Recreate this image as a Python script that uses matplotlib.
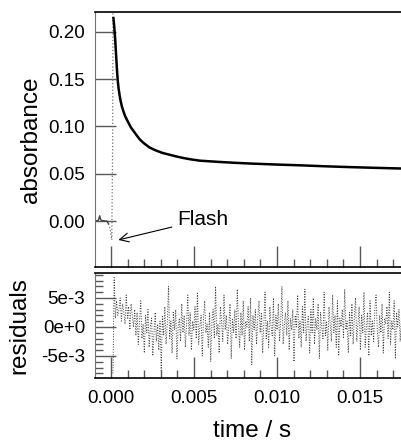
import numpy as np
import matplotlib.pyplot as plt
from matplotlib.ticker import MultipleLocator, FixedLocator, FixedFormatter

plt.rcParams['font.family'] = ['Liberation Sans', 'DejaVu Sans']

# fitted decay (time in s, absorbance)
fit_t = [0.00015, 0.00020, 0.00025, 0.00030, 0.00035, 0.00040, 0.00046, 0.00052,
         0.00058, 0.00066, 0.00075, 0.00085, 0.00102, 0.00120, 0.00145, 0.00170,
         0.00193, 0.00230, 0.00265, 0.00310, 0.00355, 0.00400, 0.00434, 0.00480,
         0.00536, 0.00650, 0.00750, 0.00837, 0.01000, 0.01139, 0.01300, 0.01440,
         0.01600, 0.01750]
fit_abs = [0.2146, 0.2050, 0.1930, 0.1780, 0.1630, 0.1500, 0.1400, 0.1330,
           0.1270, 0.1210, 0.1160, 0.1110, 0.1050, 0.0990, 0.0930, 0.0870,
           0.0830, 0.0780, 0.0750, 0.0720, 0.0700, 0.0680, 0.0667, 0.0652,
           0.0638, 0.0625, 0.0615, 0.0608, 0.0597, 0.0589, 0.0578, 0.0570,
           0.0562, 0.0555]

# baseline before the flash
pre_t = [-0.00095, -0.00085, -0.00075, -0.00068, -0.00062, -0.00055, -0.00045,
         -0.00035, -0.00025, -0.00015]
pre_abs = [0.0005, 0.0002, 0.0010, 0.0055, 0.0015, 0.0003, 0.0004, -0.0002,
           0.0001, -0.0030]

# raw trace during the flash
flash_t = [-0.00015, -0.00005, 0.00005, 0.00010, 0.00012]
flash_abs = [-0.0030, -0.0080, -0.0200, 0.0800, 0.2300]

# residuals (x 1e-3) on the sampling grid after the flash
resid_milli = [
    -8.0, 8.5, 1.5, 4.5, 2.0, 3.0, 5.0, 1.0, 4.0, 2.5, 0.5, 5.5, 1.5, 3.5, -0.5, 4.0, 2.0, 0.0, 3.0, -1.5,
    2.5, -3.0, 1.0, 4.5, -2.0, 0.5, -4.5, 2.0, -1.0, 3.0, -3.5, 0.0, 1.5, -5.0, -1.0, 2.5, -2.5, 0.5, -4.0, 1.0,
    -7.5, 2.0, -1.5, 3.5, -3.0, 0.5, 7.0, -2.0, 1.0, -4.5, 2.5, -0.5, 3.0, -5.5, 0.0, 1.5, -2.5, 4.0, -1.0, 2.0,
    -3.5, 0.5, 5.5, -1.5, 2.5, -4.0, 1.0, -0.5, 3.5, -2.0, 6.0, -3.0, 0.0, 2.0, -5.0, 1.5, 4.5, -1.0, 0.5, -3.5,
    2.5, -6.0, 1.0, 3.0, -2.0, 7.0, -1.5, 0.5, -4.5, 3.5, 1.0, -2.5, 5.5, -0.5, 2.0, -3.0, 0.0, 4.0, -5.5, 1.5,
    -1.0, 3.0, -2.0, 6.5, 0.5, -3.5, 2.5, -1.5, 4.5, -4.0, 1.0, 0.0, 3.5, -2.5, 5.0, -6.5, 2.0, -0.5, 3.0, -3.0,
    1.5, 4.5, -1.0, 2.5, -4.5, 0.5, 6.0, -2.0, 1.0, -3.5, 3.5, 0.0, -1.5, 5.0, -5.0, 2.0, -0.5, 4.0, -2.5, 1.0,
    7.0, -3.0, 0.5, 2.5, -1.5, 4.5, -4.0, 1.5, -0.5, 3.0, -6.0, 2.0, 0.0, 5.5, -2.0, 1.0, -3.5, 3.5, -1.0, 6.5,
    -2.5, 0.5, 2.0, -4.5, 3.0, -1.0, 5.0, -3.0, 1.5, -0.5, 4.0, -5.5, 2.5, 0.0, -2.0, 6.0, -1.5, 1.0, -4.0, 3.5,
    0.5, -2.5, 5.5, -1.0, 2.0, -3.5, 4.5, -5.0, 1.5, 0.0, 3.0, -2.0, 6.5, -0.5, 1.0, -4.5, 2.5, -1.5, 4.0, -3.0,
    1.5, 5.0, -2.5, 0.5, 3.5, -4.0, 2.0, -1.0, 6.0, -3.5, 0.0, 2.5, -5.0, 4.5, -1.5, 1.0, -2.5, 3.0, 5.5, -0.5,
    -3.5, 2.0, -1.0, 4.0, -4.5, 1.5, 0.5, 3.5, -2.0, 6.0, -3.0, 1.0, -0.5, 4.5, -5.5, 2.5, 0.0, 3.0, -2.5, 1.5]
resid_t = np.linspace(0.00012, 0.0175, len(resid_milli))

abs_ticks = [0.00, 0.05, 0.10, 0.15, 0.20]
abs_labels = ['0.00', '0.05', '0.10', '0.15', '0.20']
res_ticks = [-0.005, 0.0, 0.005]
res_labels = ['-5e-3', '0e+0', '5e-3']
time_ticks = [0.000, 0.005, 0.010, 0.015]
time_labels = ['0.000', '0.005', '0.010', '0.015']

fig = plt.figure(figsize=(4.01, 4.41), dpi=100)
ax1 = fig.add_axes([0.237, 0.3946, 0.764, 0.5782])
ax2 = fig.add_axes([0.237, 0.1429, 0.764, 0.2381])

xlim = (-0.00096, 0.0175)

ax1.plot(pre_t, pre_abs, color='0.25', linewidth=1.0)
ax1.plot(flash_t, flash_abs, color='0.45', linestyle=':', linewidth=0.9)
ax1.plot(fit_t, fit_abs, color='black', linewidth=1.8)
ax1.set_xlim(*xlim)
ax1.set_ylim(-0.0486, 0.221)
ax1.yaxis.set_major_locator(FixedLocator(abs_ticks))
ax1.yaxis.set_major_formatter(FixedFormatter(abs_labels))
ax1.set_ylabel('absorbance', fontsize=17.5)
ax1.yaxis.set_label_coords(-0.172, 0.5)
ax1.annotate('Flash', xy=(0.00045, -0.020), xytext=(0.0040, 0.0015),
             fontsize=15, va='center', ha='left',
             arrowprops=dict(arrowstyle='->', color='black', lw=0.8,
                             shrinkA=2, shrinkB=0, mutation_scale=16))

ax2.plot(resid_t, np.array(resid_milli) * 1e-3, color='0.25', linestyle=':', linewidth=0.7)
ax2.set_xlim(*xlim)
ax2.set_ylim(-0.0088, 0.0093)
ax2.yaxis.set_major_locator(FixedLocator(res_ticks))
ax2.yaxis.set_major_formatter(FixedFormatter(res_labels))
ax2.yaxis.set_minor_locator(MultipleLocator(0.001))
ax2.set_ylabel('residuals', fontsize=17.5)
ax2.yaxis.set_label_coords(-0.21, 0.5)
ax2.set_xlabel('time / s', fontsize=17.5)
ax2.xaxis.set_label_coords(0.513, -0.40)

for ax in (ax1, ax2):
    ax.xaxis.set_major_locator(FixedLocator(time_ticks))
    ax.xaxis.set_minor_locator(MultipleLocator(0.001))
    ax.tick_params(which='major', direction='in', length=15, width=1, color='0.35',
                   labelsize=13.5, pad=7)
    ax.tick_params(which='minor', direction='in', length=6, width=1, color='0.35')
    ax.spines['right'].set_visible(False)
    ax.spines['left'].set_color('0.45')
    for s in ('top', 'bottom'):
        ax.spines[s].set_linewidth(1.2)

ax1.tick_params(axis='x', labelbottom=False)
ax1.tick_params(axis='y', which='minor', left=False)
ax2.xaxis.set_major_formatter(FixedFormatter(time_labels))
ax2.tick_params(axis='x', pad=9)

fig.savefig('out.png', dpi=100)
